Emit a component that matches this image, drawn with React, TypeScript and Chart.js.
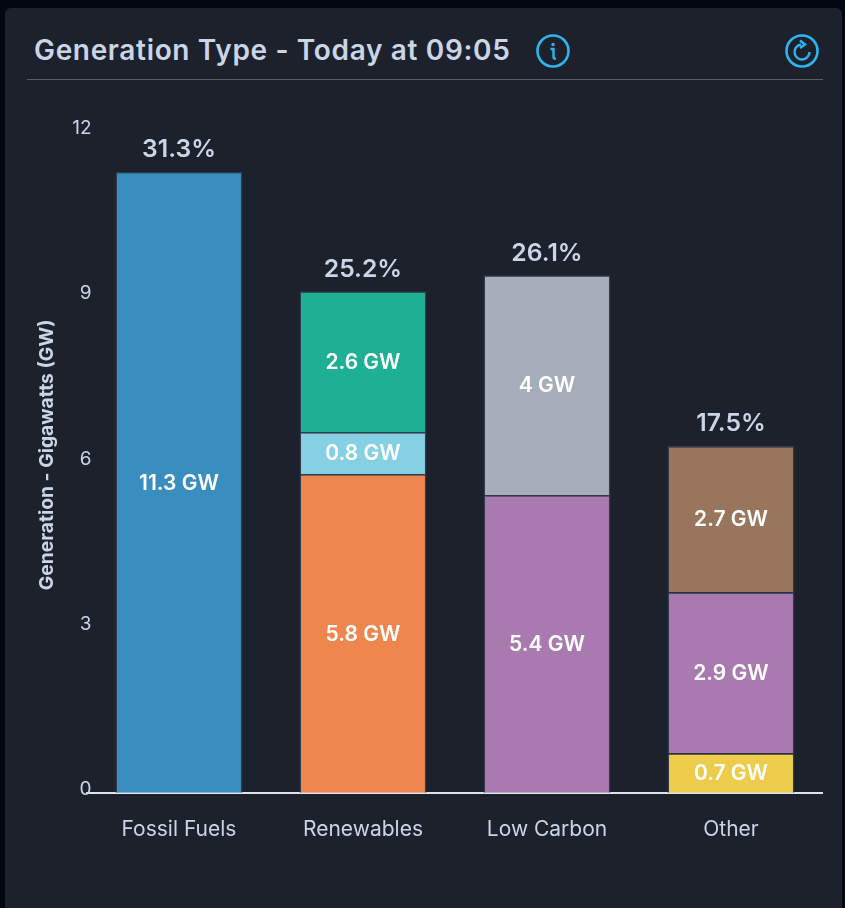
import React, { useEffect, useRef } from "react";
import { Chart, registerables } from "chart.js";

Chart.register(...registerables);

const categories = ["Fossil Fuels", "Renewables", "Low Carbon", "Other"];
const percentages = ["31.3%", "25.2%", "26.1%", "17.5%"];
const yTicks = [0, 3, 6, 9, 12];

const fossil = [11.28, null, null, null];
const solar = [null, 5.79, null, null];
const hydro = [null, 0.76, null, null];
const wind = [null, 2.56, null, null];
const nuclear = [null, null, 5.41, null];
const lowCarbonOther = [null, null, 3.99, null];
const otherA = [null, null, null, 0.72];
const otherB = [null, null, null, 2.92];
const otherC = [null, null, null, 2.66];

const seriesList = [
  { name: "Fossil", data: fossil, color: "#3a8ebf" },
  { name: "Solar", data: solar, color: "#ef864d" },
  { name: "Hydro", data: hydro, color: "#85d1e3" },
  { name: "Wind", data: wind, color: "#1eb094" },
  { name: "Nuclear", data: nuclear, color: "#a97aaf" },
  { name: "Low carbon other", data: lowCarbonOther, color: "#a8aeb9" },
  { name: "Other A", data: otherA, color: "#eecc4b" },
  { name: "Other B", data: otherB, color: "#a97aaf" },
  { name: "Other C", data: otherC, color: "#99755e" },
];

const TEXT = "#cbd5e8";
const FONT = "Inter, 'Noto Sans', sans-serif";

const labelsPlugin = {
  id: "barLabels",
  afterLayout(chart: any) {
    chart.scales.y.right += 4.5;
    chart.scales.y.bottom -= 15;
  },
  afterDatasetsDraw(chart: any) {
    const ctx = chart.ctx;
    ctx.save();
    ctx.textAlign = "center";
    ctx.textBaseline = "middle";
    const tops: number[] = categories.map(() => Infinity);
    chart.data.datasets.forEach((ds: any, di: number) => {
      const meta = chart.getDatasetMeta(di);
      ds.data.forEach((v: number | null, i: number) => {
        if (v == null) return;
        const el: any = meta.data[i];
        tops[i] = Math.min(tops[i], el.y);
        ctx.fillStyle = "#ffffff";
        ctx.font = `600 21px ${FONT}`;
        ctx.fillText(`${Number(v.toFixed(1))} GW`, el.x, (el.y + el.base) / 2 + 1);
      });
    });
    const xScale = chart.scales.x;
    ctx.fillStyle = TEXT;
    ctx.font = `600 24.7px ${FONT}`;
    percentages.forEach((p, i) => {
      ctx.fillText(p, xScale.getPixelForValue(i), tops[i] - 22);
    });
    ctx.restore();
  },
};

function App() {
  const ref = useRef<HTMLCanvasElement>(null);
  useEffect(() => {
    const chart = new Chart(ref.current!, {
      type: "bar",
      data: {
        labels: categories,
        datasets: seriesList.map((s) => ({
          label: s.name,
          data: s.data,
          backgroundColor: s.color,
          borderColor: "#2f3b4c",
          borderWidth: 1.5,
          barPercentage: 1,
          categoryPercentage: 0.69,
          stack: "a",
          clip: false,
        })),
      },
      options: {
        animation: false,
        responsive: false,
        maintainAspectRatio: false,
        layout: { padding: { top: 42, left: 0, right: 0, bottom: 0 } },
        plugins: { legend: { display: false }, tooltip: { enabled: false } },
        scales: {
          x: {
            stacked: true,
            grid: { display: false, drawTicks: false },
            border: { display: true, color: "#dfe3ea", width: 2 },
            ticks: { color: TEXT, font: { family: FONT, size: 21 }, padding: 24 },
          },
          y: {
            stacked: true,
            min: 0,
            max: 12,
            afterBuildTicks: (axis: any) => {
              axis.ticks = yTicks.map((value) => ({ value }));
            },
            grid: { display: false, drawTicks: false },
            border: { display: false },
            ticks: {
              color: TEXT,
              font: { family: FONT, size: 19 },
              padding: 0,
              labelOffset: -3.5,
            },
            title: {
              display: true,
              text: "Generation - Gigawatts (GW)",
              color: TEXT,
              font: { family: FONT, size: 19.3, weight: "bold" },
              padding: { top: 9, bottom: 8.5 },
            },
          },
        },
      },
      plugins: [labelsPlugin],
    } as any);
    return () => chart.destroy();
  }, []);

  return (
    <div style={{ position: "fixed", inset: 0, width: 845, height: 908, background: "#030712", overflow: "hidden" }}>
      <div style={{ position: "absolute", left: 5, top: 8, width: 837, height: 900, background: "#1d212c", borderRadius: "6px 6px 0 0" }} />
      <div style={{ position: "absolute", left: 34, top: 32, fontFamily: "Inter, sans-serif", fontWeight: 600, fontSize: 28, letterSpacing: 0.66, lineHeight: "36px", color: TEXT, whiteSpace: "nowrap" }}>
        Generation Type - Today at 09:05
      </div>
      <svg style={{ position: "absolute", left: 536, top: 34 }} width="34" height="34" viewBox="0 0 34 34" fill="none" stroke="#2cb5ee" strokeWidth="2.6">
        <circle cx="17" cy="17" r="15.5" />
        <circle cx="17" cy="10.5" r="1.7" fill="#2cb5ee" stroke="none" />
        <path d="M14.5 15 H17.5 V23 Q17.5 25 20 24.5" strokeWidth="2.4" />
      </svg>
      <svg style={{ position: "absolute", left: 785, top: 34 }} width="34" height="34" viewBox="0 0 34 34" fill="none" stroke="#2cb5ee" strokeWidth="2.6">
        <circle cx="17" cy="17" r="15.5" />
        <path d="M16 10.5 A7.5 7.5 0 1 0 24.5 18" strokeWidth="2.4" />
        <path d="M15 6.5 L20 10.5 L15 14" strokeWidth="2.4" />
      </svg>
      <div style={{ position: "absolute", left: 27, top: 79, width: 796, height: 1, background: "#565b66" }} />
      <canvas ref={ref} width={796} height={776} style={{ position: "absolute", left: 27, top: 90, width: 796, height: 776 }} />
    </div>
  );
}

export default App;
